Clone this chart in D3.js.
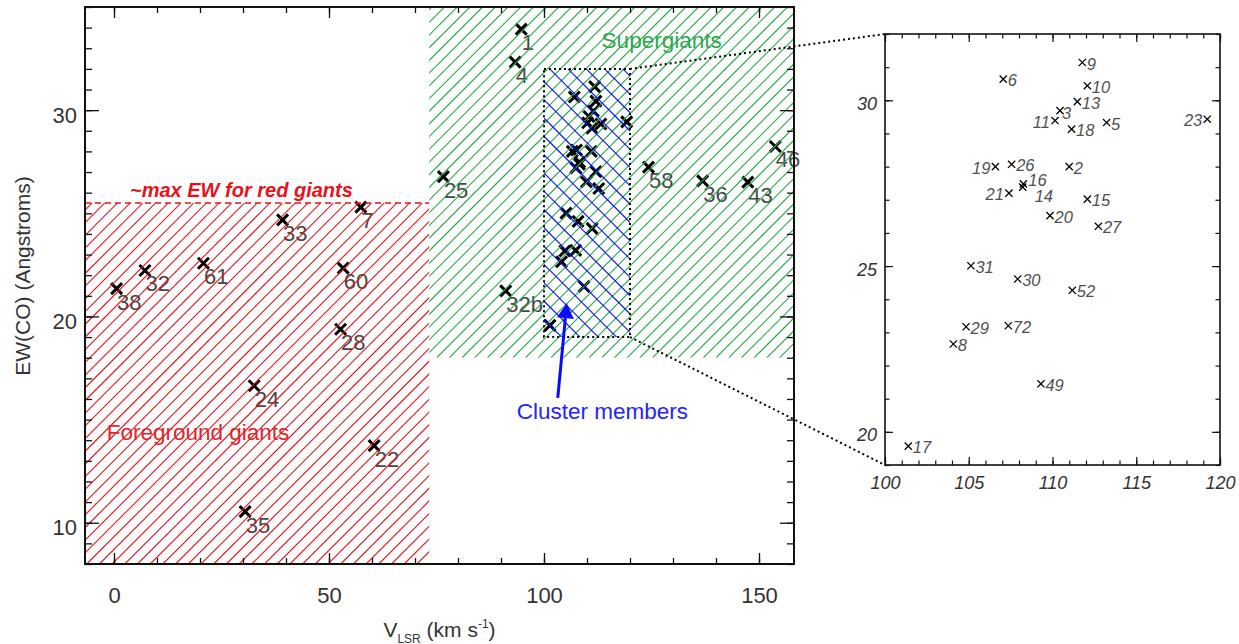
<!DOCTYPE html>
<html>
<head>
<meta charset="utf-8">
<script src="https://cdn.jsdelivr.net/npm/d3@7"></script>
<style>
  html, body { margin: 0; padding: 0; background: #fff; }
  svg { display: block; font-family: "Liberation Sans", Arial, Helvetica, sans-serif; }
</style>
</head>
<body>
<svg id="chart" width="1239" height="644"></svg>
<script>
// ---------------- DATA ----------------
// Field stars (labelled in the main panel)
const fieldIds = ["1", "4", "25", "58", "36", "43", "46", "32b", "7", "33", "60", "61", "32", "38", "28", "24", "22", "35"];
const fieldV   = [94.7, 93.3, 76.6, 124.3, 136.9, 147.4, 153.8, 91.1, 57.4, 39.2, 53.3, 20.8, 7.2, 0.6, 52.7, 32.6, 60.5, 30.5];
const fieldEW  = [33.93, 32.33, 26.78, 27.24, 26.57, 26.51, 28.24, 21.24, 25.30, 24.68, 22.34, 22.58, 22.23, 21.35, 19.38, 16.64, 13.74, 10.54];

// Cluster members (labelled in the zoomed inset)
const clusterIds = ["9", "6", "10", "13", "3", "11", "18", "5", "23", "19", "26", "2", "16", "14", "21", "15", "20", "27", "31", "30", "52", "29", "72", "8", "49", "17"];
const clusterV   = [111.78, 107.06, 112.08, 111.48, 110.45, 110.15, 111.14, 113.23, 119.24, 106.59, 107.56, 111.00, 108.26, 108.22, 107.40, 112.08, 109.85, 112.74, 105.13, 107.92, 111.18, 104.84, 107.36, 104.08, 109.31, 101.39];
const clusterEW  = [31.14, 30.64, 30.44, 29.96, 29.69, 29.39, 29.13, 29.33, 29.43, 28.00, 28.07, 28.00, 27.48, 27.38, 27.20, 27.02, 26.52, 26.20, 25.01, 24.61, 24.27, 23.17, 23.20, 22.65, 21.45, 19.57];

// Region boundaries
const redGiantMaxEW   = 25.5;   // ~max EW for red giants
const vSplit          = 73.3;   // V_LSR boundary between foreground and supergiant zones
const supergiantMinEW = 18;
const clusterBoxV     = [100, 120];
const clusterBoxEW    = [19, 32];

// Axes ticks
const mainXMajor = [0, 50, 100, 150];
const mainXMinor = d3.range(0, 151, 10);
const mainYMajor = [10, 20, 30];
const mainYMinor = d3.range(8, 36, 1);
const insetXMajor = [100, 105, 110, 115, 120];
const insetXMinor = d3.range(100, 121, 1);
const insetYMajor = [20, 25, 30];
const insetYMinor = d3.range(19, 33, 1);

// Annotation arrow (data coords): tail -> tip
const arrowTail = [103.2, 16.05];
const arrowTip  = [105.3, 20.64];

// ---------------- LAYOUT ----------------
const svg = d3.select("#chart");
const M = { left: 85, right: 794, top: 7, bottom: 564 };
const I = { left: 885, right: 1220, top: 34, bottom: 465 };

const x = d3.scaleLinear().domain([(85 - 114) / 4.3, (794 - 114) / 4.3]).range([M.left, M.right]);
const y = d3.scaleLinear().domain([8, 35]).range([M.bottom, M.top]);
const xi = d3.scaleLinear().domain([100, 120]).range([I.left, I.right]);
const yi = d3.scaleLinear().domain([19, 32]).range([I.bottom, I.top]);

const RED = "#e8121c", GREEN = "#2ea84e", BLUE = "#0a0aff";

const defs = svg.append("defs");
function clip(id, x0, y0, x1, y1) {
  defs.append("clipPath").attr("id", id).append("rect")
    .attr("x", Math.min(x0, x1)).attr("y", Math.min(y0, y1))
    .attr("width", Math.abs(x1 - x0)).attr("height", Math.abs(y1 - y0));
}

// ---------------- MAIN PANEL: markers & labels ----------------
const main = svg.append("g");
const field = fieldIds.map((id, i) => ({ id, v: fieldV[i], ew: fieldEW[i] }));
const cluster = clusterIds.map((id, i) => ({ id, v: clusterV[i], ew: clusterEW[i] }));

function xMark(s) {
  return `M${-s},${-s}L${s},${s}M${-s},${s}L${s},${-s}`;
}
main.selectAll("path.fm").data(field.concat(cluster)).join("path")
  .attr("transform", d => `translate(${x(d.v)},${y(d.ew)})`)
  .attr("d", xMark(5.5))
  .attr("stroke", "#000").attr("stroke-width", 3).attr("fill", "none");

main.selectAll("text.fl").data(field).join("text")
  .attr("x", d => x(d.v) + 0.5).attr("y", d => y(d.ew) + 21)
  .attr("font-size", 22).attr("fill", "#474747").text(d => d.id);

// ---------------- HATCHED REGIONS ----------------
function hatch(id, x0, y0, x1, y1, spacing, dir, color, width, phase) {
  clip(id, x0, y0, x1, y1);
  const g = svg.append("g").attr("clip-path", `url(#${id})`);
  const lx = Math.min(x0, x1), rx = Math.max(x0, x1), ty = Math.min(y0, y1), by = Math.max(y0, y1);
  const lines = [];
  if (dir > 0) { // up-right: x + y = c
    const cmin = lx + ty, cmax = rx + by;
    for (let c = Math.floor((cmin - phase) / spacing) * spacing + phase; c <= cmax; c += spacing)
      lines.push([c - by, by, c - ty, ty]);
  } else { // down-right: x - y = c
    const cmin = lx - by, cmax = rx - ty;
    for (let c = Math.floor((cmin - phase) / spacing) * spacing + phase; c <= cmax; c += spacing)
      lines.push([c + ty, ty, c + by, by]);
  }
  g.selectAll("line").data(lines).join("line")
    .attr("x1", d => d[0]).attr("y1", d => d[1]).attr("x2", d => d[2]).attr("y2", d => d[3])
    .attr("stroke", color).attr("stroke-width", width);
}
hatch("redClip", M.left, y(redGiantMaxEW), x(vSplit), M.bottom, 12.7, 1, RED, 1.1, 3);
hatch("greenClip", x(vSplit), M.top, M.right, y(supergiantMinEW), 12.7, 1, GREEN, 1.1, 7);
hatch("blueClip", x(clusterBoxV[0]), y(clusterBoxEW[1]), x(clusterBoxV[1]), y(clusterBoxEW[0]), 18.3, -1, BLUE, 1.1, 5);

// dashed red line
svg.append("line")
  .attr("x1", M.left).attr("x2", x(vSplit)).attr("y1", y(redGiantMaxEW)).attr("y2", y(redGiantMaxEW))
  .attr("stroke", RED).attr("stroke-width", 1.3).attr("stroke-dasharray", "6,4");

// dotted cluster box
svg.append("rect")
  .attr("x", x(clusterBoxV[0])).attr("y", y(clusterBoxEW[1]))
  .attr("width", x(clusterBoxV[1]) - x(clusterBoxV[0]))
  .attr("height", y(clusterBoxEW[0]) - y(clusterBoxEW[1]))
  .attr("fill", "none").attr("stroke", "#000").attr("stroke-width", 2).attr("stroke-dasharray", "2,3");

// connector dotted lines
svg.append("line").attr("x1", x(clusterBoxV[1])).attr("y1", y(clusterBoxEW[1]))
  .attr("x2", xi(clusterBoxV[0])).attr("y2", yi(clusterBoxEW[1]))
  .attr("stroke", "#000").attr("stroke-width", 2).attr("stroke-dasharray", "2,3");
svg.append("line").attr("x1", x(clusterBoxV[1])).attr("y1", y(clusterBoxEW[0]))
  .attr("x2", xi(clusterBoxV[0])).attr("y2", yi(clusterBoxEW[0]))
  .attr("stroke", "#000").attr("stroke-width", 2).attr("stroke-dasharray", "2,3");

// region texts
svg.append("text").attr("x", x(3.72)).attr("y", y(25.81))
  .attr("font-size", 20).attr("font-weight", "bold").attr("font-style", "italic")
  .attr("fill", RED).text("~max EW for red giants");
svg.append("text").attr("x", x(-1.7)).attr("y", y(14.02))
  .attr("font-size", 22.5).attr("fill", "#e0262b").text("Foreground giants");
svg.append("text").attr("x", x(113.4)).attr("y", y(33.02))
  .attr("font-size", 22.5).attr("fill", GREEN).text("Supergiants");
svg.append("text").attr("x", x(113.6)).attr("y", y(15.04)).attr("text-anchor", "middle")
  .attr("font-size", 22.5).attr("fill", "#2424ff").text("Cluster members");

// arrow
{
  const tx = x(arrowTail[0]), ty = y(arrowTail[1]), hx = x(arrowTip[0]), hy = y(arrowTip[1]);
  const ang = Math.atan2(hy - ty, hx - tx);
  const L = 15, W = 8.5;
  const bx = hx - L * Math.cos(ang), by = hy - L * Math.sin(ang);
  svg.append("line").attr("x1", tx).attr("y1", ty).attr("x2", bx).attr("y2", by)
    .attr("stroke", BLUE).attr("stroke-width", 3);
  const px = -Math.sin(ang), py = Math.cos(ang);
  svg.append("path")
    .attr("d", `M${hx},${hy}L${bx + W * px},${by + W * py}L${bx - W * px},${by - W * py}Z`)
    .attr("fill", BLUE);
}

// ---------------- MAIN AXES ----------------
function axisSet(g, gen, scale, major, minor, majLen, minLen) {
  g.append("g").call(gen(scale).tickValues(minor).tickSize(-minLen).tickFormat(""))
    .call(a => a.select(".domain").remove());
  return g.append("g").call(gen(scale).tickValues(major).tickSize(-majLen))
    .call(a => a.select(".domain").remove());
}
const axStyle = a => a.selectAll("line").attr("stroke", "#111").attr("stroke-width", 1.3);

const gB = svg.append("g").attr("transform", `translate(0,${M.bottom})`);
const bMaj = axisSet(gB, d3.axisBottom, x, mainXMajor, mainXMinor, 11, 6);
bMaj.selectAll("text").attr("y", 39).attr("dy", null).attr("font-size", 22).attr("fill", "#333")
  .attr("font-family", "Liberation Sans, Arial, sans-serif");
const gT = svg.append("g").attr("transform", `translate(0,${M.top})`);
axisSet(gT, d3.axisTop, x, mainXMajor, mainXMinor, 11, 6).selectAll("text").remove();
const gL = svg.append("g").attr("transform", `translate(${M.left},0)`);
const lMaj = axisSet(gL, d3.axisLeft, y, mainYMajor, mainYMinor, 14, 7);
lMaj.selectAll("text").attr("x", -8).attr("y", 12).attr("dy", null).attr("font-size", 22).attr("fill", "#333")
  .attr("font-family", "Liberation Sans, Arial, sans-serif");
const gR = svg.append("g").attr("transform", `translate(${M.right},0)`);
axisSet(gR, d3.axisRight, y, mainYMajor, mainYMinor, 14, 7).selectAll("text").remove();
[gB, gT, gL, gR].forEach(axStyle);

svg.append("rect").attr("x", M.left).attr("y", M.top)
  .attr("width", M.right - M.left).attr("height", M.bottom - M.top)
  .attr("fill", "none").attr("stroke", "#111").attr("stroke-width", 2);

// axis titles
const xt = svg.append("text").attr("x", (M.left + M.right) / 2).attr("y", 636.5)
  .attr("text-anchor", "middle").attr("font-size", 21).attr("fill", "#333");
xt.append("tspan").text("V");
xt.append("tspan").attr("font-size", 12).attr("dy", 6).text("LSR");
xt.append("tspan").attr("dy", -6).text(" (km s");
xt.append("tspan").attr("font-size", 12).attr("dy", -9).text("-1");
xt.append("tspan").attr("dy", 9).text(")");

svg.append("text").attr("transform", `translate(30,276) rotate(-90)`)
  .attr("text-anchor", "middle").attr("font-size", 21).attr("fill", "#333")
  .text("EW(CO) (Angstroms)");

// ---------------- INSET ----------------
const inset = svg.append("g");
inset.selectAll("path").data(cluster).join("path")
  .attr("transform", d => `translate(${xi(d.v)},${yi(d.ew)})`)
  .attr("d", xMark(3.6))
  .attr("stroke", "#000").attr("stroke-width", 1.3).attr("fill", "none");

// label placement (layout only)
const leftLabels = ["11", "19", "21", "23"];
const labelOffset = { "14": [12, 15], "16": [5, 2], "3": [2, 8] };
inset.selectAll("text").data(cluster).join("text")
  .attr("x", d => {
    const o = labelOffset[d.id];
    if (o) return xi(d.v) + o[0];
    return leftLabels.includes(d.id) ? xi(d.v) - 5 : xi(d.v) + 4.5;
  })
  .attr("y", d => {
    const o = labelOffset[d.id];
    return yi(d.ew) + (o ? o[1] : 7);
  })
  .attr("text-anchor", d => leftLabels.includes(d.id) ? "end" : "start")
  .attr("font-size", 16.5).attr("font-style", "italic").attr("fill", "#505050")
  .text(d => d.id);

const iB = svg.append("g").attr("transform", `translate(0,${I.bottom})`);
axisSet(iB, d3.axisBottom, xi, insetXMajor, insetXMinor, 8, 4.5).selectAll("text")
  .attr("y", 24).attr("dy", null).attr("font-size", 18).attr("font-style", "italic").attr("fill", "#333")
  .attr("font-family", "Liberation Sans, Arial, sans-serif");
const iT = svg.append("g").attr("transform", `translate(0,${I.top})`);
axisSet(iT, d3.axisTop, xi, insetXMajor, insetXMinor, 8, 4.5).selectAll("text").remove();
const iL = svg.append("g").attr("transform", `translate(${I.left},0)`);
axisSet(iL, d3.axisLeft, yi, insetYMajor, insetYMinor, 8, 4.5).selectAll("text")
  .attr("x", -8).attr("y", 9).attr("dy", null).attr("font-size", 18).attr("font-style", "italic").attr("fill", "#333")
  .attr("font-family", "Liberation Sans, Arial, sans-serif");
const iR = svg.append("g").attr("transform", `translate(${I.right},0)`);
axisSet(iR, d3.axisRight, yi, insetYMajor, insetYMinor, 8, 4.5).selectAll("text").remove();
[iB, iT, iL, iR].forEach(a => a.selectAll("line").attr("stroke", "#111").attr("stroke-width", 1.2));

svg.append("rect").attr("x", I.left).attr("y", I.top)
  .attr("width", I.right - I.left).attr("height", I.bottom - I.top)
  .attr("fill", "none").attr("stroke", "#111").attr("stroke-width", 1.6);
</script>
</body>
</html>
